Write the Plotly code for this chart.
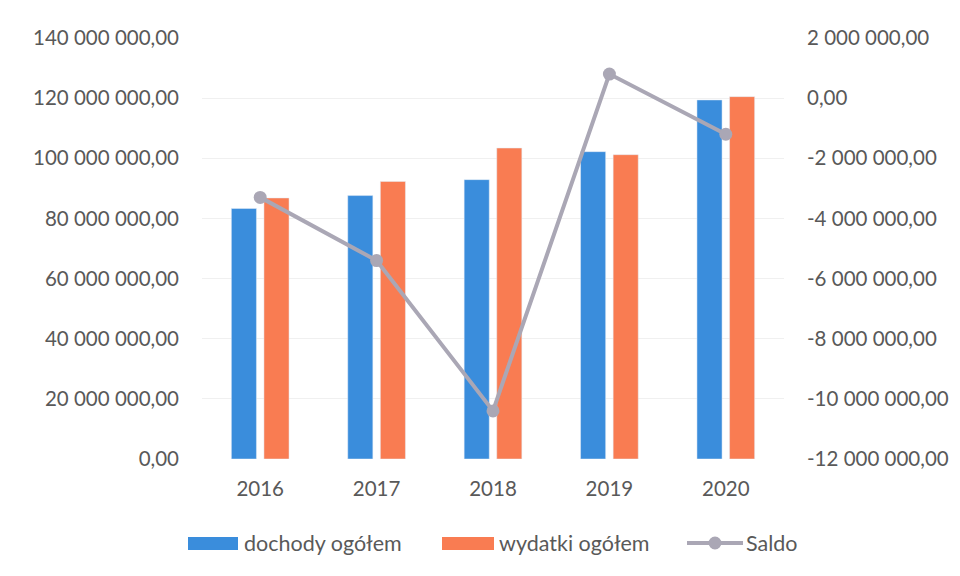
import plotly.graph_objects as go

years = ["2016", "2017", "2018", "2019", "2020"]
dochody = [83.3e6, 87.6e6, 92.9e6, 102.2e6, 119.4e6]
wydatki = [86.8e6, 92.3e6, 103.4e6, 101.2e6, 120.5e6]
saldo = [-3.3e6, -5.4e6, -10.4e6, 0.8e6, -1.2e6]

left_ticks = [0, 20e6, 40e6, 60e6, 80e6, 100e6, 120e6, 140e6]
left_labels = ["0,00", "20 000 000,00", "40 000 000,00", "60 000 000,00", "80 000 000,00",
               "100 000 000,00", "120 000 000,00", "140 000 000,00"]
right_ticks = [-12e6, -10e6, -8e6, -6e6, -4e6, -2e6, 0, 2e6]
right_labels = ["-12 000 000,00", "-10 000 000,00", "-8 000 000,00", "-6 000 000,00",
                "-4 000 000,00", "-2 000 000,00", "0,00", "2 000 000,00"]

BLUE = "#3a8ddc"
ORANGE = "#f97c52"
GRAY = "#aaa7b5"
TXT = "#595959"
FONT = "Lato"
FS = 20.5
LFS = 21.5

W, H = 960, 576
ML, MR, MT, MB = 202, 176, 38, 117
PW, PH = W - ML - MR, H - MT - MB


def px(x):
    return (x - ML) / PW


def py(y):
    return (H - MB - y) / PH


fig = go.Figure()
fig.add_trace(go.Bar(x=years, y=dochody, name="dochody ogółem", marker_color=BLUE, yaxis="y"))
fig.add_trace(go.Bar(x=years, y=wydatki, name="wydatki ogółem", marker_color=ORANGE, yaxis="y"))
fig.add_trace(go.Scatter(x=years, y=saldo, name="Saldo", yaxis="y2", mode="lines+markers",
                         line=dict(color=GRAY, width=4), marker=dict(color=GRAY, size=13)))

fig.update_layout(
    width=W, height=H,
    paper_bgcolor="white", plot_bgcolor="white",
    margin=dict(l=ML, r=MR, t=MT, b=MB),
    barmode="group", bargap=0.44, bargroupgap=0.23,
    showlegend=False,
    font=dict(family=FONT, color=TXT, size=FS),
    xaxis=dict(showgrid=False, showline=False, ticks="", tickfont=dict(size=FS, color=TXT),
               ticklabelstandoff=15),
    yaxis=dict(range=[0, 140e6], tickvals=left_ticks, ticktext=left_labels,
               showgrid=True, gridcolor="#f0f0f0", zeroline=False, showline=False,
               tickfont=dict(size=FS, color=TXT), ticklabelstandoff=22),
    yaxis2=dict(range=[-12e6, 2e6], tickvals=right_ticks, ticktext=right_labels,
                overlaying="y", side="right", showgrid=False, zeroline=False, showline=False,
                tickfont=dict(size=FS, color=TXT), ticklabelstandoff=22),
)

# custom legend (pixel positions converted to paper coords)
LY = 543
shapes = [
    dict(type="rect", xref="paper", yref="paper", x0=px(188), x1=px(238), y0=py(550), y1=py(537),
         fillcolor=BLUE, line=dict(width=0)),
    dict(type="rect", xref="paper", yref="paper", x0=px(442), x1=px(494), y0=py(550), y1=py(537),
         fillcolor=ORANGE, line=dict(width=0)),
    dict(type="line", xref="paper", yref="paper", x0=px(687), x1=px(743), y0=py(LY), y1=py(LY),
         line=dict(color=GRAY, width=4)),
    dict(type="circle", xref="paper", yref="paper", x0=px(708.5), x1=px(721.5),
         y0=py(LY + 6.5), y1=py(LY - 6.5), fillcolor=GRAY, line=dict(width=0)),
]
annotations = [
    dict(text="dochody ogółem", xref="paper", yref="paper", x=px(242), y=py(LY),
         xanchor="left", yanchor="middle", showarrow=False, font=dict(size=LFS, color=TXT)),
    dict(text="wydatki ogółem", xref="paper", yref="paper", x=px(497), y=py(LY),
         xanchor="left", yanchor="middle", showarrow=False, font=dict(size=LFS, color=TXT)),
    dict(text="Saldo", xref="paper", yref="paper", x=px(744), y=py(LY),
         xanchor="left", yanchor="middle", showarrow=False, font=dict(size=LFS, color=TXT)),
]
fig.update_layout(shapes=shapes, annotations=annotations)

fig.write_html("out.html", config={"displayModeBar": False},
               post_script="document.body.style.margin='0';")
